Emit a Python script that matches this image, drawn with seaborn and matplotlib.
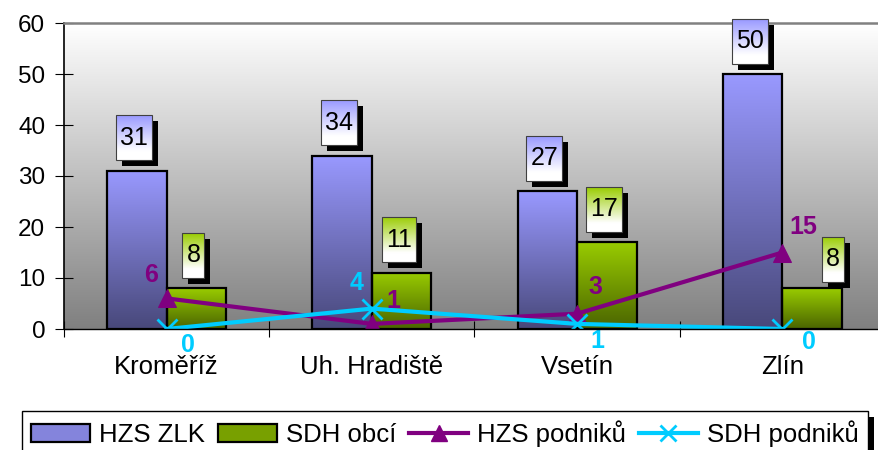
"""
Zlínský kraj: zásahy jednotek podle okresu (sloupce + čáry), přepis grafu z Excelu.
"""

import matplotlib
matplotlib.use("Agg")

import matplotlib.pyplot as plt
import numpy as np
import pandas as pd
import seaborn as sns
from matplotlib.colors import to_rgb
from matplotlib.lines import Line2D
from matplotlib.patches import Patch, Rectangle

# ── Data ──────────────────────────────────────────────────────────────────────
regions = ["Kroměříž", "Uh. Hradiště", "Vsetín", "Zlín"]
hzs_zlk = [31, 34, 27, 50]
sdh_obci = [8, 11, 17, 8]
hzs_podniku = [6, 1, 3, 15]
sdh_podniku = [0, 4, 1, 0]
series_names = ["HZS ZLK", "SDH obcí", "HZS podniků", "SDH podniků"]
y_ticks = [0, 10, 20, 30, 40, 50, 60]

# ── Style ─────────────────────────────────────────────────────────────────────
BLUE_TOP, BLUE_BOT = "#9999ff", "#48487a"
GREEN_TOP, GREEN_BOT = "#99cc00", "#4a6400"
PURPLE = "#800080"
CYAN = "#00ccff"
PX = 0.72  # points per pixel at dpi 100

# label offsets (px, y up) for the line value labels
hzs_pod_offsets = [(-16, 23), (22, 23), (18, 27), (21, 25)]
sdh_pod_offsets = [(21, -16), (-15, 26), (20, -17), (27, -13)]
# bar label box offsets (px from bar top centre); the Zlín one was moved aside
bar_label_offsets = [
    [(-3, 33), (-3, 33), (-3, 33), (-3, 33)],
    [(-3, 33), (-3, 33), (-3, 33), (21, 29)],
]

plt.rcParams["font.family"] = ["Liberation Sans", "DejaVu Sans"]


def vertical_gradient(top, bottom, n=256, hold=0.0):
    t = np.linspace(0, 1, n)
    if hold:
        t = np.clip(t / hold, 0, 1)
    c0, c1 = np.array(to_rgb(top)), np.array(to_rgb(bottom))
    rgb = c0[None, :] * (1 - t[:, None]) + c1[None, :] * t[:, None]
    return rgb[:, None, :]


def fill_patch_gradient(ax, patch, top, bottom):
    x, y = patch.get_x(), patch.get_y()
    w, h = patch.get_width(), patch.get_height()
    im = ax.imshow(vertical_gradient(top, bottom), extent=(x, x + w, y, y + h),
                   origin="upper", aspect="auto", zorder=patch.get_zorder() - 0.05,
                   interpolation="bilinear")
    im.set_clip_path(patch)
    patch.set_facecolor("none")


fig = plt.figure(figsize=(8.79, 4.5), dpi=100)
ax = fig.add_axes([64 / 879, 1 - 329 / 450, 821 / 879, 306 / 450])

# plot-area background: white at top to grey at the bottom
ax.imshow(vertical_gradient("#ffffff", "#808080"), extent=(0, 1, 0, 1),
          transform=ax.transAxes, aspect="auto", zorder=0, interpolation="bilinear")

df = pd.DataFrame({
    "region": regions * 2,
    "series": [series_names[0]] * 4 + [series_names[1]] * 4,
    "value": hzs_zlk + sdh_obci,
})
sns.barplot(data=df, x="region", y="value", hue="series",
            palette=[BLUE_TOP, GREEN_TOP], width=0.58, saturation=1,
            edgecolor="black", linewidth=1.6, legend=False, ax=ax, zorder=2)

for container, (top, bot) in zip(ax.containers, [(BLUE_TOP, BLUE_BOT), (GREEN_TOP, GREEN_BOT)]):
    for bar in container:
        fill_patch_gradient(ax, bar, top, bot)

xs = np.arange(len(regions))
sns.lineplot(x=xs, y=hzs_podniku, color=PURPLE, linewidth=3, marker="^",
             markersize=13, markeredgecolor=PURPLE, ax=ax, zorder=3)
sns.lineplot(x=xs, y=sdh_podniku, color=CYAN, linewidth=3, marker="x",
             markersize=14, markeredgewidth=2, markeredgecolor=CYAN, ax=ax, zorder=3.5)

for i, v in enumerate(hzs_podniku):
    dx, dy = hzs_pod_offsets[i]
    ax.annotate(str(v), (i, v), xytext=(dx * PX, dy * PX), textcoords="offset points",
                ha="center", va="center", color=PURPLE, fontsize=18,
                fontweight="bold", zorder=7)
for i, v in enumerate(sdh_podniku):
    dx, dy = sdh_pod_offsets[i]
    ax.annotate(str(v), (i, v), xytext=(dx * PX, dy * PX), textcoords="offset points",
                ha="center", va="center", color=CYAN, fontsize=18,
                fontweight="bold", zorder=7)

# bar value labels (boxes added after a first draw)
bar_labels = []
for k, (container, top) in enumerate(zip(ax.containers, [BLUE_TOP, GREEN_TOP])):
    for j, bar in enumerate(container):
        cx = bar.get_x() + bar.get_width() / 2
        dx, dy = bar_label_offsets[k][j]
        t = ax.annotate(f"{bar.get_height():.0f}", (cx, bar.get_height()),
                        xytext=(dx * PX, dy * PX), textcoords="offset points",
                        ha="center", va="center", fontsize=18, zorder=12,
                        annotation_clip=False)
        bar_labels.append((t, top))

# axes
ax.set_xlim(-0.5, 3.5)
ax.set_ylim(0, 60)
ax.set_autoscale_on(False)
ax.set_xticks(xs)
ax.set_xticklabels(regions)
ax.set_xticks([-0.5, 0.5, 1.5, 2.5, 3.5], minor=True)
ax.set_yticks(y_ticks)
ax.set_xlabel("")
ax.set_ylabel("")
ax.tick_params(axis="x", which="major", length=0, pad=19, labelsize=18.5)
ax.tick_params(axis="x", which="minor", direction="inout", length=11, width=0.8)
ax.tick_params(axis="y", direction="inout", length=13, width=0.8, pad=7, labelsize=17.5)
ax.spines["right"].set_visible(False)
ax.spines["top"].set_color("#808080")
ax.spines["top"].set_linewidth(1.8)
ax.spines["left"].set_linewidth(1.2)
ax.spines["bottom"].set_linewidth(1.0)
for s in ax.spines.values():
    s.set_zorder(8)

handles = [
    Patch(facecolor="#8484dc", edgecolor="black", linewidth=1.6),
    Patch(facecolor="#78a000", edgecolor="black", linewidth=1.6),
    Line2D([], [], color=PURPLE, linewidth=3, marker="^", markersize=11),
    Line2D([], [], color=CYAN, linewidth=3, marker="x", markersize=12, markeredgewidth=2),
]
leg = fig.legend(handles, series_names, loc="upper left",
                 bbox_to_anchor=(22 / 879, 1 - 411 / 450), ncol=4, fontsize=18.5,
                 frameon=True, fancybox=False, edgecolor="black", framealpha=1,
                 handlelength=2.3, handleheight=0.7, handletextpad=0.35,
                 columnspacing=0.5, borderpad=0.35, borderaxespad=0)
leg.get_frame().set_linewidth(1.0)
leg.set_zorder(5)

# label boxes with gradient fill and a black drop shadow
fig.canvas.draw()
renderer = fig.canvas.get_renderer()
inv = ax.transData.inverted()
for t, top in bar_labels:
    bb = t.get_window_extent(renderer)
    cy = (bb.y0 + bb.y1) / 2
    x0, y0 = inv.transform((bb.x0 - 4, cy - 22.5))
    x1, y1 = inv.transform((bb.x1 + 4, cy + 22.5))
    sx0, sy0 = inv.transform((bb.x0 - 4 + 6, cy - 22.5 - 6))
    ax.add_patch(Rectangle((sx0, sy0), x1 - x0, y1 - y0, facecolor="black",
                           edgecolor="none", zorder=9, clip_on=False))
    box = Rectangle((x0, y0), x1 - x0, y1 - y0, facecolor="none",
                    edgecolor="#404040", linewidth=0.8, zorder=9.6, clip_on=False)
    ax.add_patch(box)
    im = ax.imshow(vertical_gradient(top, "#ffffff", hold=0.8), extent=(x0, x1, y0, y1),
                   origin="upper", aspect="auto", zorder=9.5, interpolation="bilinear")
    im.set_clip_box(fig.bbox)
    im.set_clip_path(box)

# black drop shadow behind the legend frame
lb = leg.get_frame().get_window_extent(renderer)
fig.patches.append(Rectangle((lb.x0 + 6, lb.y0 - 6), lb.width, lb.height,
                             transform=None, facecolor="black", edgecolor="none",
                             zorder=4, figure=fig))

ax.set_xlim(-0.5, 3.5)
ax.set_ylim(0, 60)

fig.savefig("out.png", dpi=100, facecolor="white")
